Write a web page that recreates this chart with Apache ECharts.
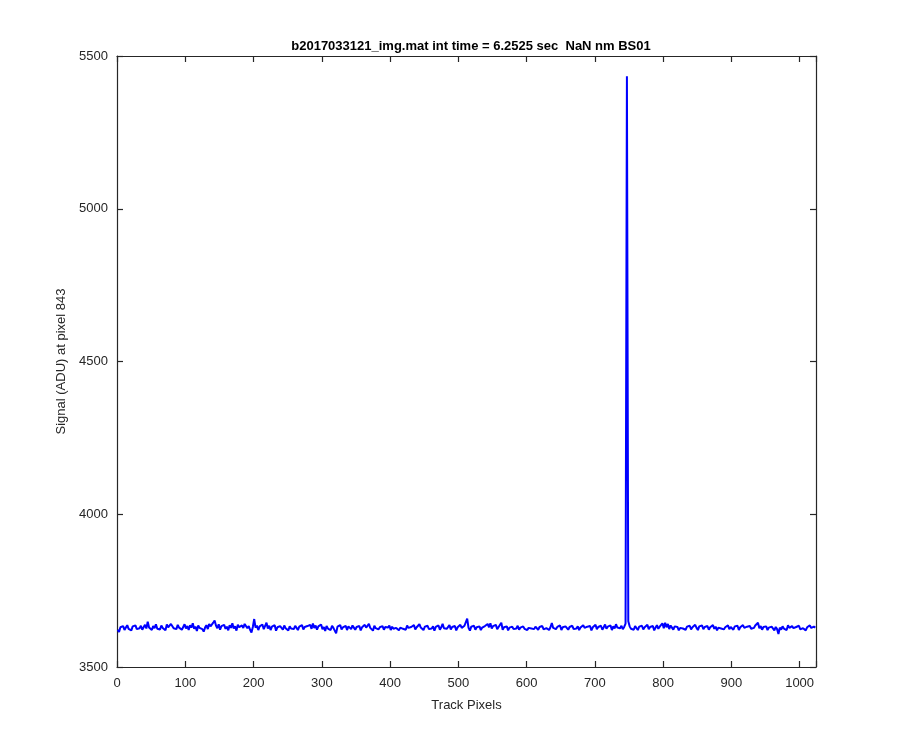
<!DOCTYPE html>
<html>
<head>
<meta charset="utf-8">
<script src="https://cdn.jsdelivr.net/npm/echarts@6/dist/echarts.min.js"></script>
<style>
html,body{margin:0;padding:0;background:#fff;}
#chart{width:900px;height:750px;}
</style>
</head>
<body>
<div id="chart"></div>
<script>
var titleText = 'b2017033121_img.mat int time = 6.2525 sec  NaN nm BS01';
var xName = 'Track Pixels';
var yName = 'Signal (ADU) at pixel 843';
var xTicks = [0,100,200,300,400,500,600,700,800,900,1000];
var yTicks = [3500,4000,4500,5000,5500];
var firstPixel = 1;
var pixelStep = 2;
var signal = [
3622,3615,3630,3626,3634,3621,3629,3637,3625,3631,3620,3633,3628,3636,3624,3630,
3627,3635,3622,3630,3638,3626,3648,3629,3633,3621,3634,3627,3640,3625,3631,3623,
3636,3628,3632,3620,3639,3630,3626,3641,3645,3627,3633,3624,3638,3629,3635,3622,
3631,3640,3626,3634,3621,3637,3629,3643,3625,3632,3618,3636,3628,3633,3624,3616,
3629,3637,3624,3641,3633,3628,3645,3652,3636,3627,3640,3622,3634,3629,3638,3625,
3632,3620,3637,3628,3643,3626,3633,3619,3638,3630,3624,3636,3628,3641,3646,3627,
3634,3622,3613,3631,3657,3629,3636,3621,3633,3627,3639,3624,3630,3645,3626,3635,
3621,3632,3628,3637,3619,3630,3625,3634,3628,3622,3636,3627,3631,3620,3633,3626,
3630,3624,3635,3628,3621,3632,3627,3637,3623,3631,3626,3634,3629,3638,3625,3642,
3628,3636,3622,3633,3627,3639,3624,3631,3618,3634,3626,3630,3621,3635,3628,3624,
3610,3632,3626,3637,3623,3630,3627,3635,3621,3633,3628,3624,3636,3629,3622,3631,
3627,3634,3620,3630,3626,3638,3629,3624,3641,3628,3633,3619,3635,3627,3631,3623,
3630,3626,3634,3622,3631,3627,3629,3636,3621,3632,3625,3630,3628,3634,3620,3629,
3633,3625,3630,3622,3636,3628,3624,3631,3627,3637,3623,3630,3626,3640,3629,3634,
3621,3632,3627,3635,3624,3630,3626,3633,3619,3631,3628,3636,3622,3630,3641,3627,
3633,3625,3629,3637,3623,3631,3627,3634,3620,3630,3626,3638,3628,3624,3635,3640,
3658,3628,3619,3632,3626,3635,3622,3630,3627,3633,3621,3629,3625,3634,3628,3641,
3630,3643,3626,3634,3629,3638,3624,3631,3627,3645,3622,3630,3626,3633,3620,3629,
3627,3632,3624,3630,3626,3635,3622,3629,3628,3633,3625,3630,3621,3628,3634,3626,
3630,3624,3632,3627,3622,3631,3626,3634,3623,3629,3627,3632,3621,3630,3644,3628,
3634,3624,3631,3627,3636,3621,3630,3626,3633,3628,3622,3631,3627,3635,3624,3630,
3626,3633,3621,3629,3625,3637,3628,3623,3632,3627,3634,3620,3630,3626,3638,3624,
3631,3627,3635,3622,3630,3639,3625,3632,3628,3636,3621,3633,3626,3640,3629,3634,
3627,3635,3624,3631,3642,5434,3650,3633,3625,3630,3622,3634,3628,3621,3632,3626,
3635,3623,3630,3627,3638,3624,3631,3626,3634,3620,3629,3637,3625,3632,3628,3643,
3627,3645,3630,3641,3624,3636,3629,3622,3633,3627,3631,3620,3628,3634,3626,3630,
3622,3632,3627,3635,3623,3630,3626,3638,3628,3621,3633,3627,3636,3624,3631,3626,
3634,3622,3630,3627,3637,3625,3632,3620,3629,3635,3626,3631,3623,3630,3627,3636,
3624,3631,3628,3622,3633,3627,3635,3621,3630,3626,3637,3628,3624,3632,3627,3634,
3625,3631,3628,3636,3630,3645,3627,3634,3622,3631,3626,3633,3621,3629,3625,3632,
3627,3620,3631,3624,3608,3629,3622,3633,3626,3630,3621,3637,3628,3624,3634,3627,
3622,3631,3626,3635,3623,3629,3627,3633,3620,3630,3625,3636,3628,3624,3632,3629
];
var xMin = 0, xMax = 1024, yMin = 3500, yMax = 5500;

var seriesData = signal.map(function (v, i) { return [firstPixel + i * pixelStep, v]; });
var axisColor = '#262626';
var font = "'Liberation Sans', Arial, Helvetica, sans-serif";
var xInterval = xTicks[1] - xTicks[0];
var yInterval = yTicks[1] - yTicks[0];

function xAxisCfg(pos, showLabel) {
  return {
    type: 'value', position: pos, min: xMin, max: xMax, interval: xInterval,
    name: showLabel ? xName : '', nameLocation: 'middle', nameGap: 32,
    nameTextStyle: { color: axisColor, fontSize: 13, fontFamily: font },
    axisLine: { show: true, onZero: false, lineStyle: { color: axisColor, width: 1.2 } },
    axisTick: { show: true, inside: true, length: 6, lineStyle: { color: axisColor, width: 1.2 } },
    axisLabel: { show: showLabel, color: axisColor, fontSize: 13, fontFamily: font, margin: 10,
      formatter: function (v) { return xTicks.indexOf(v) >= 0 ? String(v) : ''; } },
    splitLine: { show: false }
  };
}
function yAxisCfg(pos, showLabel) {
  return {
    type: 'value', position: pos, min: yMin, max: yMax, interval: yInterval,
    name: showLabel ? yName : '', nameLocation: 'middle', nameGap: 46,
    nameTextStyle: { color: axisColor, fontSize: 13, fontFamily: font },
    axisLine: { show: true, onZero: false, lineStyle: { color: axisColor, width: 1.2 } },
    axisTick: { show: true, inside: true, length: 6, lineStyle: { color: axisColor, width: 1.2 } },
    axisLabel: { show: showLabel, color: axisColor, fontSize: 13, fontFamily: font, margin: 9,
      formatter: function (v) { return yTicks.indexOf(v) >= 0 ? String(v) : ''; } },
    splitLine: { show: false }
  };
}

var chart = echarts.init(document.getElementById('chart'), null, { renderer: 'canvas' });
chart.setOption({
  animation: false,
  backgroundColor: '#ffffff',
  title: {
    text: titleText, left: 466, top: 35, textAlign: 'center',
    textStyle: { color: '#000', fontSize: 13, fontWeight: 'bold', fontFamily: font }
  },
  grid: { left: 117, right: 84, top: 56, bottom: 83, containLabel: false },
  xAxis: [xAxisCfg('bottom', true), xAxisCfg('top', false)],
  yAxis: [yAxisCfg('left', true), yAxisCfg('right', false)],
  series: [{
    type: 'line', xAxisIndex: 0, yAxisIndex: 0, data: seriesData,
    showSymbol: false, symbol: 'none',
    lineStyle: { color: '#0000ff', width: 2 }
  }]
});
</script>
</body>
</html>
